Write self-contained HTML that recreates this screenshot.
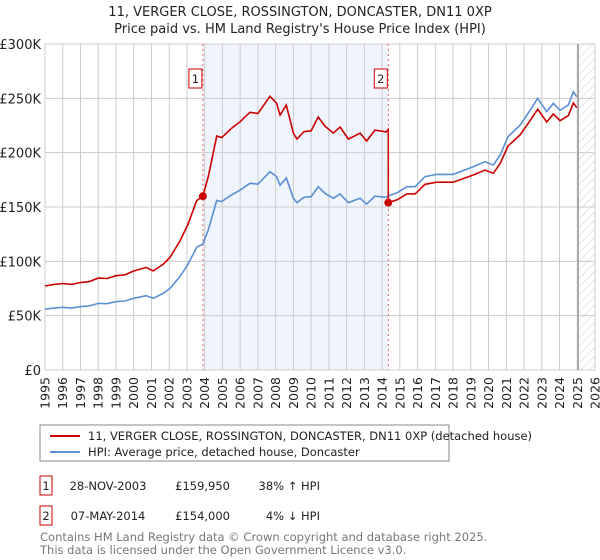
<!DOCTYPE html>
<html><head><meta charset="utf-8"><style>
body{margin:0;background:#fff;font-family:"DejaVu Sans","Liberation Sans",sans-serif;}
#wrap{position:relative;width:600px;height:560px;overflow:hidden}
svg text{font-family:"DejaVu Sans","Liberation Sans",sans-serif;}
</style></head><body><div id="wrap">
<svg id="chart" width="600" height="560">
<defs><pattern id="hatch" width="6" height="6" patternUnits="userSpaceOnUse" patternTransform="rotate(45)"><line x1="0" y1="0" x2="0" y2="6" stroke="#ccc" stroke-width="1"/></pattern></defs>
<text x="300" y="16" text-anchor="middle" font-size="13" fill="#222">11, VERGER CLOSE, ROSSINGTON, DONCASTER, DN11 0XP</text>
<text x="300" y="33" text-anchor="middle" font-size="13" fill="#222">Price paid vs. HM Land Registry's House Price Index (HPI)</text>
<g id="grid"></g><g id="series"></g><g id="axes"></g>
<rect x="40" y="425" width="409" height="36" fill="#fff" stroke="#888"/>
<line x1="50" y1="436" x2="80" y2="436" stroke="#cc0000" stroke-width="2"/>
<text x="88" y="440" font-size="11.5" fill="#222">11, VERGER CLOSE, ROSSINGTON, DONCASTER, DN11 0XP (detached house)</text>
<line x1="50" y1="452" x2="80" y2="452" stroke="#5b8fd4" stroke-width="2"/>
<text x="88" y="456" font-size="11.5" fill="#222">HPI: Average price, detached house, Doncaster</text>
<g>
<rect x="40" y="476" width="12" height="19" fill="#fff" stroke="#cc0000"/>
<text x="46" y="490" text-anchor="middle" font-size="11.5" fill="#222">1</text>
<text x="108" y="490" text-anchor="middle" font-size="11.5" fill="#222">28-NOV-2003</text>
<text x="230" y="490" text-anchor="end" font-size="11.5" fill="#222">£159,950</text>
<text x="320" y="490" text-anchor="end" font-size="11.5" fill="#222">38% ↑ HPI</text></g>
<g>
<rect x="40" y="506" width="12" height="19" fill="#fff" stroke="#cc0000"/>
<text x="46" y="520" text-anchor="middle" font-size="11.5" fill="#222">2</text>
<text x="108" y="520" text-anchor="middle" font-size="11.5" fill="#222">07-MAY-2014</text>
<text x="230" y="520" text-anchor="end" font-size="11.5" fill="#222">£154,000</text>
<text x="320" y="520" text-anchor="end" font-size="11.5" fill="#222">4% ↓ HPI</text></g>
<text x="40" y="541" font-size="11.5" fill="#777">Contains HM Land Registry data © Crown copyright and database right 2025.</text>
<text x="40" y="554" font-size="11.5" fill="#777">This data is licensed under the Open Government Licence v3.0.</text>
</svg></div>
<script>
const hpiYears=[1995.0,1995.5,1996.0,1996.5,1997.0,1997.5,1998.0,1998.5,1999.0,1999.5,2000.0,2000.7,2001.1,2001.67,2002.05,2002.6,2003.04,2003.55,2003.9,2004.2,2004.68,2004.96,2005.5,2006.0,2006.55,2007.0,2007.68,2008.05,2008.25,2008.6,2009.0,2009.2,2009.6,2010.0,2010.4,2010.78,2011.25,2011.63,2012.1,2012.76,2013.13,2013.6,2014.22,2014.35,2014.83,2015.4,2015.86,2016.42,2017.08,2018.0,2019.14,2019.8,2020.27,2020.65,2021.1,2021.78,2022.34,2022.77,2023.28,2023.65,2024.03,2024.5,2024.78,2024.97];
const hpiValues=[56,57,57.7,57,58.3,59,61.3,61,62.9,63.5,66,68.4,66,70.6,75.2,85.9,96.6,113,115.9,128.8,156,155,161,165.6,171.8,171,182.5,178,170,176.7,158,154,159,159.5,168.7,162.6,158,162,154,158,152.7,160,158.8,160.4,163,168.7,168.7,178,180,180,187,191.7,188.6,197.8,214.7,225.4,239,250,237.7,245.4,239,243.9,256,251.5];
const priceYears=[1995.0,1995.5,1996.0,1996.5,1997.0,1997.5,1998.0,1998.5,1999.0,1999.5,2000.0,2000.7,2001.1,2001.67,2002.05,2002.6,2003.04,2003.55,2003.9,2004.2,2004.68,2004.96,2005.5,2006.0,2006.55,2007.0,2007.68,2008.05,2008.25,2008.6,2009.0,2009.2,2009.6,2010.0,2010.4,2010.78,2011.25,2011.63,2012.1,2012.76,2013.13,2013.6,2014.22,2014.35,2014.35,2014.83,2015.4,2015.86,2016.42,2017.08,2018.0,2019.14,2019.8,2020.27,2020.65,2021.1,2021.78,2022.34,2022.77,2023.28,2023.65,2024.03,2024.5,2024.78,2024.97];
const priceValues=[77.3,78.7,79.6,78.7,80.5,81.4,84.6,84.2,86.8,87.6,91.1,94.4,91.1,97.4,103.8,118.5,133.3,155.9,159.95,177.7,215.3,213.9,222.2,228.5,237.1,236,251.9,245.6,234.6,243.8,218,212.5,219.4,220.1,232.8,224.4,218,223.6,212.5,218,210.7,220.8,219.1,221.4,154,156.5,162,162,170.9,172.8,172.8,179.5,184,181,189.9,206.1,216.4,229.4,240,228.2,235.6,229.4,234.1,245.8,241.4];
const saleYears=[2003.9,2014.35];
const saleValues=[159.95,154];
const saleLabels=["1","2"];
const yTicks=[0,50,100,150,200,250,300];
const yTickLabels=["£0","£50K","£100K","£150K","£200K","£250K","£300K"];
const xTicks=[1995,1996,1997,1998,1999,2000,2001,2002,2003,2004,2005,2006,2007,2008,2009,2010,2011,2012,2013,2014,2015,2016,2017,2018,2019,2020,2021,2022,2023,2024,2025,2026];

const L=45,R=595,T=44,B=370;
const xs=y=>L+(y-1995)/(2026-1995)*(R-L);
const ys=v=>B-v/300*(B-T);
const NS="http://www.w3.org/2000/svg";
function mk(tag,attrs,parent){const e=document.createElementNS(NS,tag);for(const k in attrs)e.setAttribute(k,attrs[k]);parent.appendChild(e);return e;}
const grid=document.getElementById('grid'),ser=document.getElementById('series'),ax=document.getElementById('axes');
const shade=mk('rect',{x:xs(saleYears[0]),y:T,width:xs(saleYears[1])-xs(saleYears[0]),height:B-T,fill:'#f0f4fd'},grid);


const hat=mk('rect',{x:xs(2025.1),y:T,width:R-xs(2025.1),height:B-T,fill:'url(#hatch)'},grid);


yTicks.forEach((v,i)=>{
 const g=mk('line',{x1:L,x2:R,y1:ys(v),y2:ys(v),stroke:'#ccc'},grid);
 
 
 const t=mk('text',{x:L-4,y:ys(v)+5,'text-anchor':'end','font-size':'13',fill:'#222'},ax);
 t.textContent=yTickLabels[i];
 
 
});
xTicks.forEach(y=>{
 const g=mk('line',{x1:xs(y),x2:xs(y),y1:T,y2:B,stroke:'#ccc'},grid);
 
 
 const t=mk('text',{x:0,y:0,'text-anchor':'end','font-size':'12.5',fill:'#222',transform:`translate(${xs(y)+4.5},${B+7}) rotate(-90)`},ax);
 t.textContent=y;
 
 
});
const fr=mk('rect',{x:L,y:T,width:R-L,height:B-T,fill:'none',stroke:'#ccc'},grid);


const nl=mk('line',{x1:xs(2025.05),x2:xs(2025.05),y1:T,y2:B,stroke:'#999','stroke-width':1.5},grid);


saleYears.forEach((y,i)=>{
 const d=mk('line',{x1:xs(y),x2:xs(y),y1:T,y2:B,stroke:'#e06666','stroke-dasharray':'2,3'},grid);
 
 
 const r=mk('rect',{x:xs(y)-14,y:69,width:13,height:19,fill:'#fff',stroke:'#cc0000'},ax);
 
 
 const t=mk('text',{x:xs(y)-7.5,y:83,'text-anchor':'middle','font-size':'11.5',fill:'#222'},ax);
 t.textContent=saleLabels[i];
 
 
});
const hp=mk('polyline',{points:hpiYears.map((y,i)=>xs(y)+','+ys(hpiValues[i])).join(' '),fill:'none',stroke:'#5b8fd4','stroke-width':1.6},ser);


const pp=mk('polyline',{points:priceYears.map((y,i)=>xs(y)+','+ys(priceValues[i])).join(' '),fill:'none',stroke:'#cc0000','stroke-width':1.6},ser);


saleYears.forEach((y,i)=>{
 const c=mk('circle',{cx:xs(y),cy:ys(saleValues[i]),r:4,fill:'#cc0000'},ser);
 
 
});
</script></body></html>
